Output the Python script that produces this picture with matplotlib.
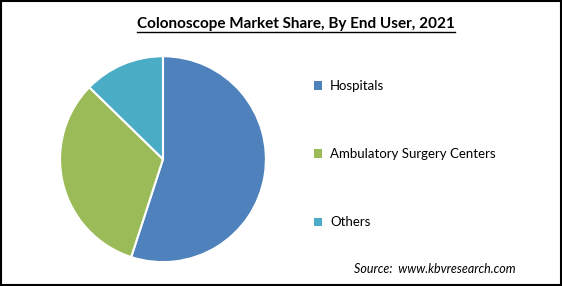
import matplotlib
matplotlib.use("Agg")
import matplotlib.pyplot as plt
from matplotlib.patches import Patch, Rectangle
from matplotlib.lines import Line2D

labels = ["Hospitals", "Ambulatory Surgery Centers", "Others"]
shares = [55.0, 32.3, 12.7]
colors = ["#4F81BD", "#9BBB59", "#4BACC6"]

plt.rcParams['font.family'] = ['Lato', 'DejaVu Sans']

fig = plt.figure(figsize=(5.62, 2.86), dpi=100)
fig.patch.set_facecolor("white")

ax = fig.add_axes([0.105, 0.080, 0.370, 0.727])
ax.pie(shares, colors=colors, startangle=90, counterclock=False,
       wedgeprops=dict(edgecolor="white", linewidth=1.5))
ax.set_xlim(-1.01, 1.01)
ax.set_ylim(-1.01, 1.01)
ax.set_aspect("equal")

# title with underline
title = fig.text(0.527, 0.916, "Colonoscope Market Share, By End User, 2021",
                 ha="center", va="center", fontsize=11, fontweight="bold")
fig.canvas.draw()
bb = title.get_window_extent().transformed(fig.transFigure.inverted())
fig.add_artist(Line2D([bb.x0, bb.x1], [bb.y0 - 0.004, bb.y0 - 0.004],
                      color="black", linewidth=1.0, transform=fig.transFigure))

handles = [Patch(facecolor=c, edgecolor="none") for c in colors]
fig.legend(handles, labels, loc="upper left", bbox_to_anchor=(0.55, 0.738),
           frameon=False, fontsize=9.5, handlelength=0.6, handleheight=0.6,
           handletextpad=0.6, labelspacing=4.25, borderaxespad=0)

fig.text(0.630, 0.060, "Source:  www.kbvresearch.com", ha="left", va="center",
         fontsize=9, style="italic")

fig.add_artist(Rectangle((0.001, 0.002), 0.997, 0.995, transform=fig.transFigure,
                         fill=False, edgecolor="black", linewidth=1.5))

fig.savefig("out.png", dpi=100)
